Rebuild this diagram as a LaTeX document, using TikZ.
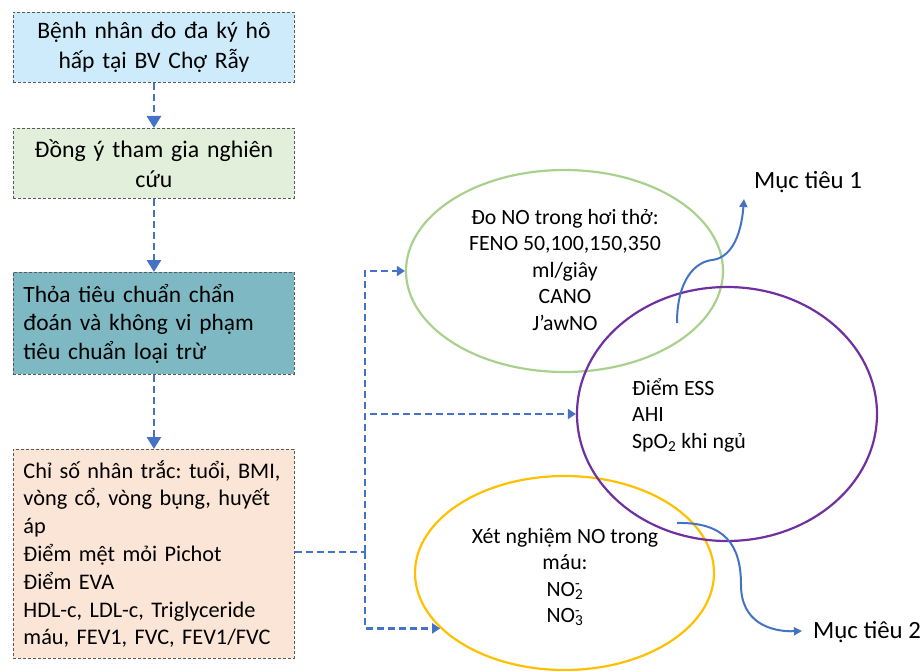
\documentclass[tikz,border=0pt]{standalone}
\usepackage{fontspec}
\setmainfont{Carlito}
\usetikzlibrary{shapes.geometric,arrows.meta}

\definecolor{linkblue}{HTML}{4472C4}
\definecolor{boxgray}{HTML}{595959}
\definecolor{fillblue}{HTML}{CDEBFA}
\definecolor{fillgreen}{HTML}{E2EFDA}
\definecolor{fillteal}{HTML}{7EB8C3}
\definecolor{fillpeach}{HTML}{FBE5D6}
\definecolor{ringgreen}{HTML}{A9D18E}
\definecolor{ringpurple}{HTML}{7030A0}
\definecolor{ringyellow}{HTML}{FFC000}

% one unbreakable line of box text
\newcommand{\boxline}[1]{\mbox{#1}}

\begin{document}
\frenchspacing
\begin{tikzpicture}[x=1pt,y=-1pt,
  stepbox/.style={draw=boxgray, line width=0.9pt, dash pattern=on 3pt off 2pt,
    minimum width=281pt, text width=261pt, inner xsep=10pt, inner ysep=0pt,
    anchor=north west},
  ring/.style={ellipse, line width=2.2pt, inner sep=0pt},
  ringtext/.style={inner sep=0pt, font=\frenchspacing\fontsize{21.8}{26.5}\selectfont},
  conn/.style={draw=linkblue, line width=2.8pt, dash pattern=on 7pt off 4pt},
  tipbig/.style={-{Triangle[length=12pt,width=14pt]}},
  tipsmall/.style={-{Triangle[length=8pt,width=10pt]}},
  goal/.style={draw=linkblue, line width=2pt, -{Triangle[length=8pt,width=8pt]}},
  goaltext/.style={inner sep=0pt, anchor=west, font=\fontsize{24.8}{26.5}\selectfont}
]
\useasboundingbox (0,0) rectangle (923,671);

% left column: study flow
\node[stepbox, fill=fillblue, minimum height=70pt, align=center,
      font=\frenchspacing\fontsize{23.6}{30}\selectfont] (b1) at (13,12)
  {\boxline{Bệnh nhân đo đa ký hô}\\\boxline{hấp tại BV Chợ Rẫy}};
\node[stepbox, fill=fillgreen, minimum height=70pt, align=center,
      font=\frenchspacing\fontsize{23.8}{30}\selectfont] (b2) at (13,128)
  {\boxline{Đồng ý tham gia nghiên}\\\boxline{cứu}};
\node[stepbox, fill=fillteal, minimum height=102pt, align=left,
      font=\frenchspacing\fontsize{23.4}{28.5}\selectfont] (b3) at (13,272)
  {\boxline{Thỏa tiêu chuẩn chẩn}\\\boxline{đoán và không vi phạm}\\\boxline{tiêu chuẩn loại trừ}};
\node[stepbox, fill=fillpeach, minimum height=209pt, align=left,
      font=\frenchspacing\fontsize{22.3}{27.8}\selectfont] (b4) at (13,449)
  {\boxline{Chỉ số nhân trắc: tuổi, BMI,}\\\boxline{vòng cổ, vòng bụng, huyết}\\\boxline{áp}\\
   \boxline{Điểm mệt mỏi Pichot}\\\boxline{Điểm EVA}\\\boxline{HDL-c, LDL-c, Triglyceride}\\
   \boxline{máu, FEV1, FVC, FEV1/FVC}};

\draw[conn, tipbig] (b1) -- (b2);
\draw[conn, tipbig] (b2) -- (b3);
\draw[conn, tipbig] (b3) -- (b4);

% measurement groups
\node[ring, draw=ringgreen, minimum width=317pt, minimum height=202pt] (green) at (564.5,271) {};
\node[ring, draw=ringyellow, minimum width=299pt, minimum height=194pt] (yellow) at (564.5,573) {};
\node[ring, draw=ringpurple, minimum width=300pt, minimum height=254pt] (purple) at (727,414) {};

\node[ringtext, align=center] (greentext) at (565,270)
  {Đo NO trong hơi thở:\\FENO 50,100,150,350\\ml/giây\\CANO\\J’awNO};
\node[ringtext, align=left, anchor=west] (purpletext) at (632,415)
  {Điểm ESS\\AHI\\SpO\textsubscript{2} khi ngủ};
\node[ringtext, align=center] (yellowtext) at (565,577)
  {Xét nghiệm NO trong\\máu:\\NO\rlap{\textsuperscript{-}}\textsubscript{2}\\NO\rlap{\textsuperscript{-}}\textsubscript{3}};

% branching connector
\coordinate (hub) at (365,552);
\draw[conn] (b4.east |- hub) -- (hub);
\draw[conn, tipsmall] (hub) |- (green.west);
\draw[conn, tipsmall] (hub) |- (purple.west);
\draw[conn, tipsmall] (hub) |- (yellow.204.6);

% objectives
\node[goaltext] (goal1) at (754,182) {Mục tiêu 1};
\node[goaltext] (goal2) at (813,632) {Mục tiêu 2};

\coordinate (g1start) at (677,323);
\coordinate (g1end) at (744,199);
\coordinate (g2start) at (677,523);
\coordinate (g2end) at (802,631);

\draw[goal] (g1start) .. controls (677,280) and (695,262) .. (712,260)
  .. controls (730,258) and (741,238) .. (g1end);
\draw[goal] (g2start) .. controls (725,522) and (741,545) .. (741,585)
  .. controls (741,622) and (770,632) .. (g2end);
\end{tikzpicture}
\end{document}
